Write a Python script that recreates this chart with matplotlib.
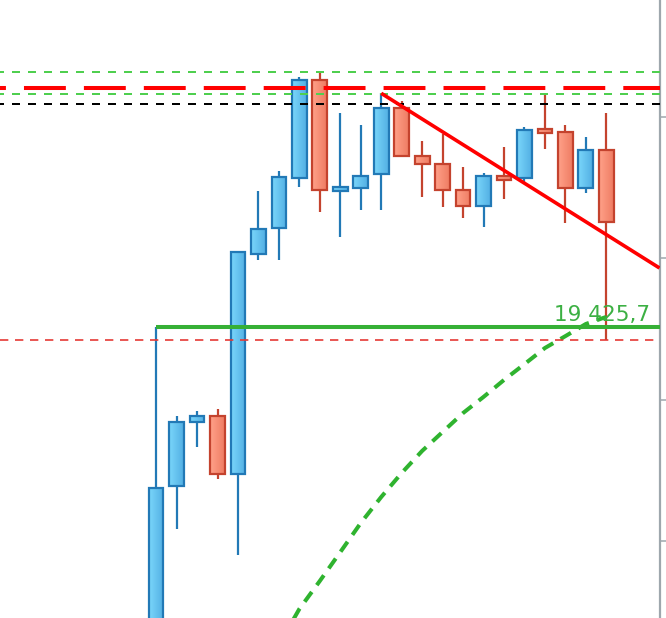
import numpy as np
import matplotlib.pyplot as plt
from matplotlib.colors import LinearSegmentedColormap
from matplotlib.patches import Rectangle

# candle data (oldest -> newest)
opens = [19307.9, 19369.5, 19392.0, 19394.2, 19373.6, 19451.4, 19460.6, 19478.4,
         19513.1, 19473.9, 19474.8, 19479.7, 19503.3, 19486.3, 19483.5, 19474.3,
         19468.4, 19479.2, 19478.3, 19495.8, 19494.8, 19474.8, 19488.4]
highs = [19425.7, 19394.3, 19396.0, 19396.6, 19452.3, 19473.8, 19480.9, 19514.1,
         19515.7, 19501.4, 19497.2, 19508.4, 19505.7, 19491.5, 19494.0, 19482.3,
         19480.2, 19489.4, 19496.5, 19507.8, 19497.2, 19492.9, 19501.4]
lows = [19300.0, 19354.4, 19383.4, 19372.1, 19345.1, 19449.4, 19449.4, 19475.3,
        19466.4, 19457.6, 19467.1, 19467.1, 19486.1, 19471.8, 19468.2, 19464.3,
        19461.2, 19471.1, 19477.1, 19488.8, 19462.6, 19473.2, 19421.1]
closes = [19368.9, 19392.2, 19394.2, 19373.6, 19452.3, 19460.3, 19478.7, 19513.1,
          19474.2, 19475.1, 19479.2, 19503.3, 19486.1, 19483.3, 19474.2, 19468.5,
          19479.2, 19477.7, 19495.5, 19494.4, 19474.8, 19488.4, 19462.8]

# moving average (green dashed curve)
ma_idx = list(range(6, 23))
ma_vals = [19313.3, 19326.0, 19335.9, 19346.1, 19356.4, 19365.6, 19374.1, 19381.9,
           19388.6, 19395.3, 19401.0, 19407.0, 19412.6, 19418.3, 19422.5, 19426.8,
           19429.3]

# horizontal levels
green_top = 19516.0
red_level = 19510.4
green_mid = 19508.1
black_level = 19504.6
support = 19425.7
red_low = 19421.1

# trend line
trend_x = [11, 24.6]
trend_y = [19508.4, 19446.6]

y_ticks = [19500, 19450, 19400, 19350]

x_min, x_max = -7.63, 24.6
y_min, y_max = 19322.8, 19541.4

fig = plt.figure(figsize=(6.66, 6.18), dpi=100)
ax = fig.add_axes([0, 0, 659.5 / 666, 1])

blue_cmap = LinearSegmentedColormap.from_list('b', ['#7ad6fa', '#52afe4'])
red_cmap = LinearSegmentedColormap.from_list('r', ['#ffa189', '#ef7c63'])
grad = np.linspace(0, 1, 40).reshape(1, -1)
body_w = 0.72

for i in range(len(opens)):
    o, h, l, c = opens[i], highs[i], lows[i], closes[i]
    up = c >= o
    edge = '#2279b6' if up else '#c4432e'
    cmap = blue_cmap if up else red_cmap
    lo, hi = min(o, c), max(o, c)
    ax.vlines(i, l, h, color=edge, lw=1.6, zorder=2)
    ax.imshow(grad, cmap=cmap, extent=[i - body_w / 2, i + body_w / 2, lo, hi],
              aspect='auto', interpolation='bilinear', zorder=3)
    ax.add_patch(Rectangle((i - body_w / 2, lo), body_w, hi - lo, fill=False,
                           edgecolor=edge, lw=1.6, zorder=4))

# moving average
ax.plot(ma_idx, ma_vals, color='#2fb32f', lw=2.9, dashes=(3.0, 2.1), zorder=5)

# levels
ax.axhline(green_top, color='#4fcf4f', lw=1.44, linestyle=(2, (4, 4)), zorder=6)
ax.axhline(red_level, color='#ff0000', lw=2.9, linestyle=(8.93, (10.4, 4.48)), zorder=6)
ax.axhline(green_mid, color='#4fcf4f', lw=1.44, linestyle=(2, (4, 4)), zorder=6)
ax.axhline(black_level, color='black', lw=1.44, linestyle=(2, (4, 4)), zorder=6)
ax.axhline(red_low, color='#e53935', lw=1.2, linestyle=(0, (5, 4)), zorder=6)
ax.hlines(support, 0, x_max, color='#36b036', lw=2.9, zorder=6)

ax.plot(trend_x, trend_y, color='#ff0000', lw=2.6, zorder=7, solid_capstyle='butt')

ax.text(24.16, 19428.0, '19 425,7', ha='right', va='baseline', color='#3cb043',
        fontsize=15.5, zorder=8)

ax.set_xlim(x_min, x_max)
ax.set_ylim(y_min, y_max)
ax.set_aspect('auto')

for side in ['left', 'top', 'bottom']:
    ax.spines[side].set_visible(False)
ax.spines['right'].set_color('#9ea7ad')
ax.spines['right'].set_linewidth(1.6)
ax.set_xticks([])
ax.yaxis.tick_right()
ax.set_yticks(y_ticks)
ax.set_yticklabels([])
ax.tick_params(axis='y', colors='#9ea7ad', length=5, width=1.1, direction='out')

fig.savefig('out.png', dpi=100)
